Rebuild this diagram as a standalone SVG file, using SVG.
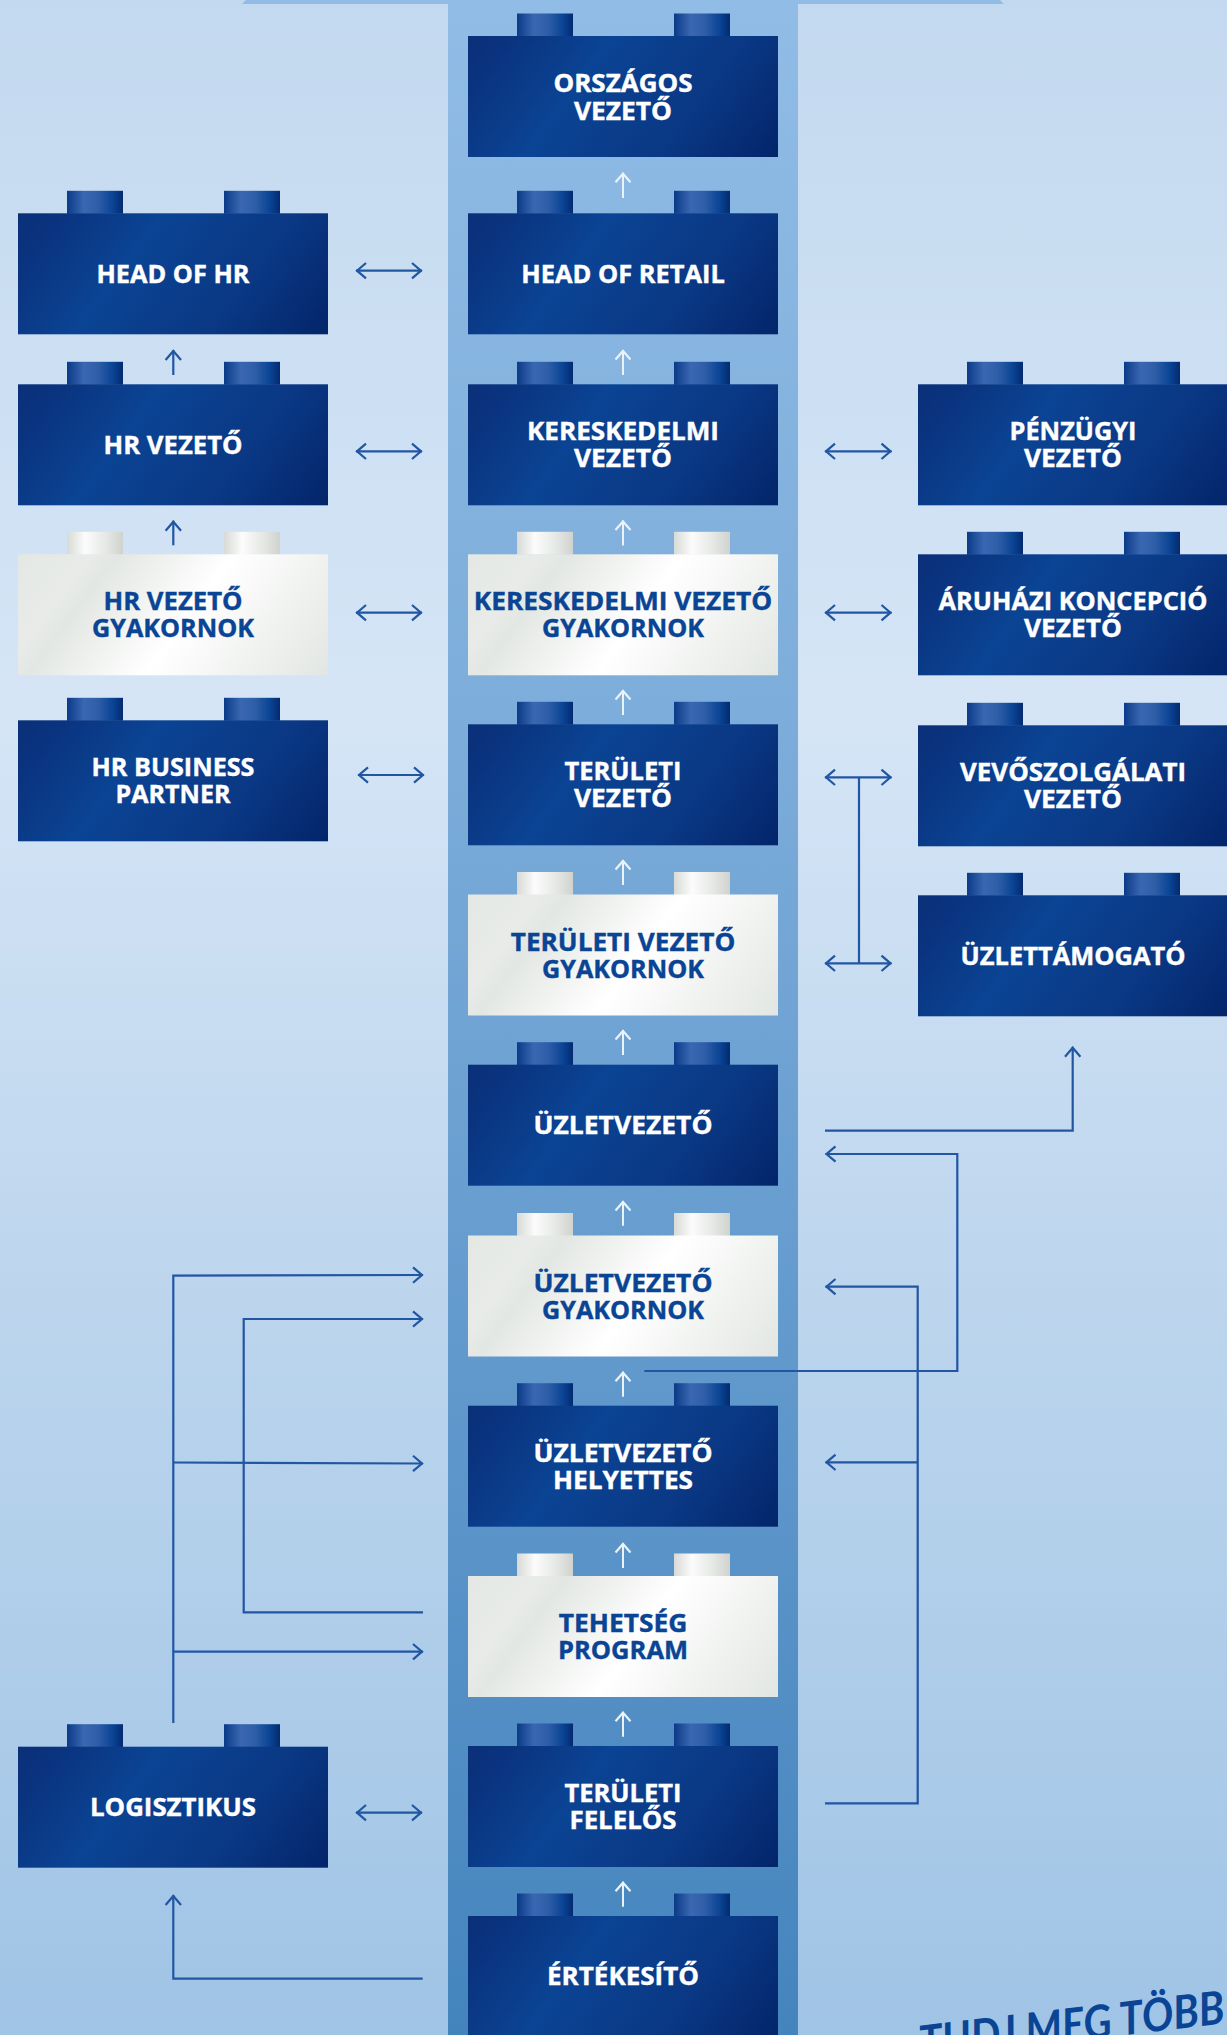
<svg xmlns="http://www.w3.org/2000/svg" width="1227" height="2035" viewBox="0 0 1227 2035">
<style>
.t{font-family:"Open Sans","Noto Sans","Liberation Sans",sans-serif;font-weight:700;font-size:24.5px;text-anchor:middle;stroke-width:.4}
.w{fill:#fff;stroke:#fff}.b{fill:#0a4494;stroke:#0a4494}
.c{fill:none;stroke:#2156a3;stroke-width:2.2}
.u{fill:none;stroke:#eaf2fa;stroke-width:2}
.h{fill:none;stroke-width:2.2;stroke-linecap:butt;stroke-linejoin:miter}
</style>
<defs>
<linearGradient id="bg" x1="0" y1="0" x2="0" y2="1"><stop offset="0" stop-color="#c3d9ef"/><stop offset=".35" stop-color="#d5e5f6"/><stop offset=".64" stop-color="#bcd5ed"/><stop offset="1" stop-color="#a0c4e6"/></linearGradient>
<linearGradient id="col" x1="0" y1="0" x2="0" y2="1"><stop offset="0" stop-color="#90bce6"/><stop offset=".35" stop-color="#7dadda"/><stop offset=".64" stop-color="#649bce"/><stop offset="1" stop-color="#4484bd"/></linearGradient>
<linearGradient id="db" gradientUnits="userSpaceOnUse" x1="0" y1="0" x2="257.500" y2="191.500"><stop offset="0" stop-color="#0a3078"/><stop offset=".12" stop-color="#0a3480"/><stop offset=".36" stop-color="#0a4494"/><stop offset=".7" stop-color="#0a3884"/><stop offset="1" stop-color="#03256a"/></linearGradient>
<linearGradient id="wb" gradientUnits="userSpaceOnUse" x1="0" y1="0" x2="257.500" y2="191.500"><stop offset="0" stop-color="#e4e8e4"/><stop offset=".18" stop-color="#e8ebe8"/><stop offset=".25" stop-color="#e3e7e3"/><stop offset=".54" stop-color="#ffffff"/><stop offset="1" stop-color="#e2e6e2"/></linearGradient>
<linearGradient id="ds" x1="0" y1="0" x2="1" y2="0"><stop offset="0" stop-color="#0a3a88"/><stop offset=".3" stop-color="#3b67b1"/><stop offset=".55" stop-color="#2f5ea8"/><stop offset=".82" stop-color="#0a4494"/><stop offset="1" stop-color="#042a70"/></linearGradient>
<linearGradient id="ws" x1="0" y1="0" x2="1" y2="0"><stop offset="0" stop-color="#d8dad6"/><stop offset=".32" stop-color="#fbfcfb"/><stop offset=".7" stop-color="#e6e8e5"/><stop offset="1" stop-color="#d0d2ce"/></linearGradient>
<g id="dark"><rect x="49" y="-22.500" width="56" height="23" fill="url(#ds)"/><rect x="206" y="-22.500" width="56" height="23" fill="url(#ds)"/><rect width="310" height="121" fill="url(#db)"/></g>
<g id="light"><rect x="49" y="-22.500" width="56" height="23" fill="url(#ws)"/><rect x="206" y="-22.500" width="56" height="23" fill="url(#ws)"/><rect width="310" height="121" fill="url(#wb)"/></g>
<marker id="a" markerUnits="userSpaceOnUse" markerWidth="28" markerHeight="28" refX="15" refY="14" orient="auto-start-reverse"><path class="h" stroke="#2156a3" d="M5 6.300L14 14L5 21.700"/></marker>
<marker id="n" markerUnits="userSpaceOnUse" markerWidth="28" markerHeight="28" refX="15" refY="14" orient="auto"><path class="h" stroke="#eaf2fa" d="M5.500 6.500L14 14L5.500 21.500"/></marker>
</defs>
<rect width="1227" height="2035" fill="url(#bg)"/>
<polygon points="246,0 1000,0 1004,4 242,4" fill="#90bce6"/>
<rect x="448" y="0" width="350" height="2035" fill="url(#col)"/>

<g id="head-of-hr" transform="translate(18,213.300)"><use href="#dark"/><text class="t w" x="155" y="70" textLength="153" lengthAdjust="spacingAndGlyphs">HEAD OF HR</text></g>
<g id="hr-vezeto" transform="translate(18,384.300)"><use href="#dark"/><text class="t w" x="155" y="69.500" textLength="139" lengthAdjust="spacingAndGlyphs">HR VEZETŐ</text></g>
<g id="hr-vezeto-gyakornok" transform="translate(18,554.300)"><use href="#light"/><text class="t b" x="155" y="56" textLength="139" lengthAdjust="spacingAndGlyphs">HR VEZETŐ</text><text class="t b" x="155" y="83" textLength="162" lengthAdjust="spacingAndGlyphs">GYAKORNOK</text></g>
<g id="hr-business-partner" transform="translate(18,720.300)"><use href="#dark"/><text class="t w" x="155" y="56" textLength="163" lengthAdjust="spacingAndGlyphs">HR BUSINESS</text><text class="t w" x="155" y="83" textLength="115" lengthAdjust="spacingAndGlyphs">PARTNER</text></g>
<g id="logisztikus" transform="translate(18,1746.700)"><use href="#dark"/><text class="t w" x="155" y="69.500" textLength="166" lengthAdjust="spacingAndGlyphs">LOGISZTIKUS</text></g>

<g id="orszagos-vezeto" transform="translate(468,36)"><use href="#dark"/><text class="t w" x="155" y="56" textLength="139" lengthAdjust="spacingAndGlyphs">ORSZÁGOS</text><text class="t w" x="155" y="83.500" textLength="98" lengthAdjust="spacingAndGlyphs">VEZETŐ</text></g>
<g id="head-of-retail" transform="translate(468,213.300)"><use href="#dark"/><text class="t w" x="155" y="70" textLength="203.500" lengthAdjust="spacingAndGlyphs">HEAD OF RETAIL</text></g>
<g id="kereskedelmi-vezeto" transform="translate(468,384.300)"><use href="#dark"/><text class="t w" x="155" y="56" textLength="192" lengthAdjust="spacingAndGlyphs">KERESKEDELMI</text><text class="t w" x="155" y="83" textLength="98" lengthAdjust="spacingAndGlyphs">VEZETŐ</text></g>
<g id="kereskedelmi-vezeto-gyakornok" transform="translate(468,554.300)"><use href="#light"/><text class="t b" x="155" y="56" textLength="298.500" lengthAdjust="spacingAndGlyphs">KERESKEDELMI VEZETŐ</text><text class="t b" x="155" y="83" textLength="162" lengthAdjust="spacingAndGlyphs">GYAKORNOK</text></g>
<g id="teruleti-vezeto" transform="translate(468,724.300)"><use href="#dark"/><text class="t w" x="155" y="56" textLength="117" lengthAdjust="spacingAndGlyphs">TERÜLETI</text><text class="t w" x="155" y="83" textLength="98" lengthAdjust="spacingAndGlyphs">VEZETŐ</text></g>
<g id="teruleti-vezeto-gyakornok" transform="translate(468,894.500)"><use href="#light"/><text class="t b" x="155" y="56" textLength="224.500" lengthAdjust="spacingAndGlyphs">TERÜLETI VEZETŐ</text><text class="t b" x="155" y="83" textLength="162" lengthAdjust="spacingAndGlyphs">GYAKORNOK</text></g>
<g id="uzletvezeto" transform="translate(468,1064.700)"><use href="#dark"/><text class="t w" x="155" y="69.500" textLength="179" lengthAdjust="spacingAndGlyphs">ÜZLETVEZETŐ</text></g>
<g id="uzletvezeto-gyakornok" transform="translate(468,1235.500)"><use href="#light"/><text class="t b" x="155" y="56" textLength="179" lengthAdjust="spacingAndGlyphs">ÜZLETVEZETŐ</text><text class="t b" x="155" y="83" textLength="162" lengthAdjust="spacingAndGlyphs">GYAKORNOK</text></g>
<g id="uzletvezeto-helyettes" transform="translate(468,1405.700)"><use href="#dark"/><text class="t w" x="155" y="56" textLength="179" lengthAdjust="spacingAndGlyphs">ÜZLETVEZETŐ</text><text class="t w" x="155" y="83" textLength="140" lengthAdjust="spacingAndGlyphs">HELYETTES</text></g>
<g id="tehetseg-program" transform="translate(468,1576)"><use href="#light"/><text class="t b" x="155" y="56" textLength="128.500" lengthAdjust="spacingAndGlyphs">TEHETSÉG</text><text class="t b" x="155" y="83" textLength="130" lengthAdjust="spacingAndGlyphs">PROGRAM</text></g>
<g id="teruleti-felelos" transform="translate(468,1746)"><use href="#dark"/><text class="t w" x="155" y="56" textLength="117" lengthAdjust="spacingAndGlyphs">TERÜLETI</text><text class="t w" x="155" y="83" textLength="107" lengthAdjust="spacingAndGlyphs">FELELŐS</text></g>
<g id="ertekesito" transform="translate(468,1916)"><use href="#dark"/><text class="t w" x="155" y="69" textLength="152" lengthAdjust="spacingAndGlyphs">ÉRTÉKESÍTŐ</text></g>

<g id="penzugyi-vezeto" transform="translate(918,384.300)"><use href="#dark"/><text class="t w" x="155" y="56" textLength="127" lengthAdjust="spacingAndGlyphs">PÉNZÜGYI</text><text class="t w" x="155" y="83" textLength="98" lengthAdjust="spacingAndGlyphs">VEZETŐ</text></g>
<g id="aruhazi-koncepcio-vezeto" transform="translate(918,554.300)"><use href="#dark"/><text class="t w" x="155" y="56" textLength="269" lengthAdjust="spacingAndGlyphs">ÁRUHÁZI KONCEPCIÓ</text><text class="t w" x="155" y="83" textLength="98" lengthAdjust="spacingAndGlyphs">VEZETŐ</text></g>
<g id="vevoszolgalati-vezeto" transform="translate(918,725.300)"><use href="#dark"/><text class="t w" x="155" y="56" textLength="226" lengthAdjust="spacingAndGlyphs">VEVŐSZOLGÁLATI</text><text class="t w" x="155" y="83" textLength="98" lengthAdjust="spacingAndGlyphs">VEZETŐ</text></g>
<g id="uzlettamogato" transform="translate(918,895.300)"><use href="#dark"/><text class="t w" x="155" y="70" textLength="225" lengthAdjust="spacingAndGlyphs">ÜZLETTÁMOGATÓ</text></g>

<g id="connectors">
<g marker-end="url(#n)" class="u">
<path d="M623 198V172.700"/><path d="M623 375V350"/><path d="M623 545.500V520.500"/><path d="M623 715V690"/><path d="M623 885V860"/><path d="M623 1055V1030"/><path d="M623 1225.700V1201"/><path d="M623 1396.700V1371.700"/><path d="M623 1568V1543"/><path d="M623 1736.700V1711.700"/><path d="M623 1906.700V1881.700"/>
</g>
<g class="c">
<path marker-end="url(#a)" d="M173.300 375V350"/>
<path marker-end="url(#a)" d="M173.300 545.300V520.700"/>
<path marker-start="url(#a)" marker-end="url(#a)" d="M356 270.700H422"/>
<path marker-start="url(#a)" marker-end="url(#a)" d="M356 451.300H422"/>
<path marker-start="url(#a)" marker-end="url(#a)" d="M356 612.700H422"/>
<path marker-start="url(#a)" marker-end="url(#a)" d="M358 775H424"/>
<path marker-start="url(#a)" marker-end="url(#a)" d="M356 1812.700H422"/>
<path marker-start="url(#a)" marker-end="url(#a)" d="M825 451.300H891.500"/>
<path marker-start="url(#a)" marker-end="url(#a)" d="M825 612.700H891.500"/>
<path marker-start="url(#a)" marker-end="url(#a)" d="M825 777.300H891.500"/>
<path marker-start="url(#a)" marker-end="url(#a)" d="M825 963.300H891.500"/>
<path d="M859 777.300V963.300"/>
<path marker-end="url(#a)" d="M825 1130.700H1072.700V1046.700"/>
<path marker-end="url(#a)" d="M644.300 1371H957.300V1154H825.500"/>
<path marker-end="url(#a)" d="M825 1803.300H917.700V1286.700H825.500"/>
<path marker-end="url(#a)" d="M917.700 1462.300H825.500"/>
<path marker-end="url(#a)" d="M173.300 1723V1275.700L423 1275"/>
<path marker-end="url(#a)" d="M173.300 1462.500L423 1463.500"/>
<path marker-end="url(#a)" d="M173.300 1651.700H423"/>
<path marker-end="url(#a)" d="M423 1612.300H243.700V1319H423"/>
<path marker-end="url(#a)" d="M422.700 1978.700H173.300V1895"/>
</g>
</g>
<text x="921" y="2059" transform="rotate(-6.700 921 2059)" font-family="Lato,'Liberation Sans',sans-serif" font-weight="700" font-style="italic" font-size="46" fill="#0a4494" textLength="307" lengthAdjust="spacingAndGlyphs">TUDJ MEG TÖBB</text>
</svg>
